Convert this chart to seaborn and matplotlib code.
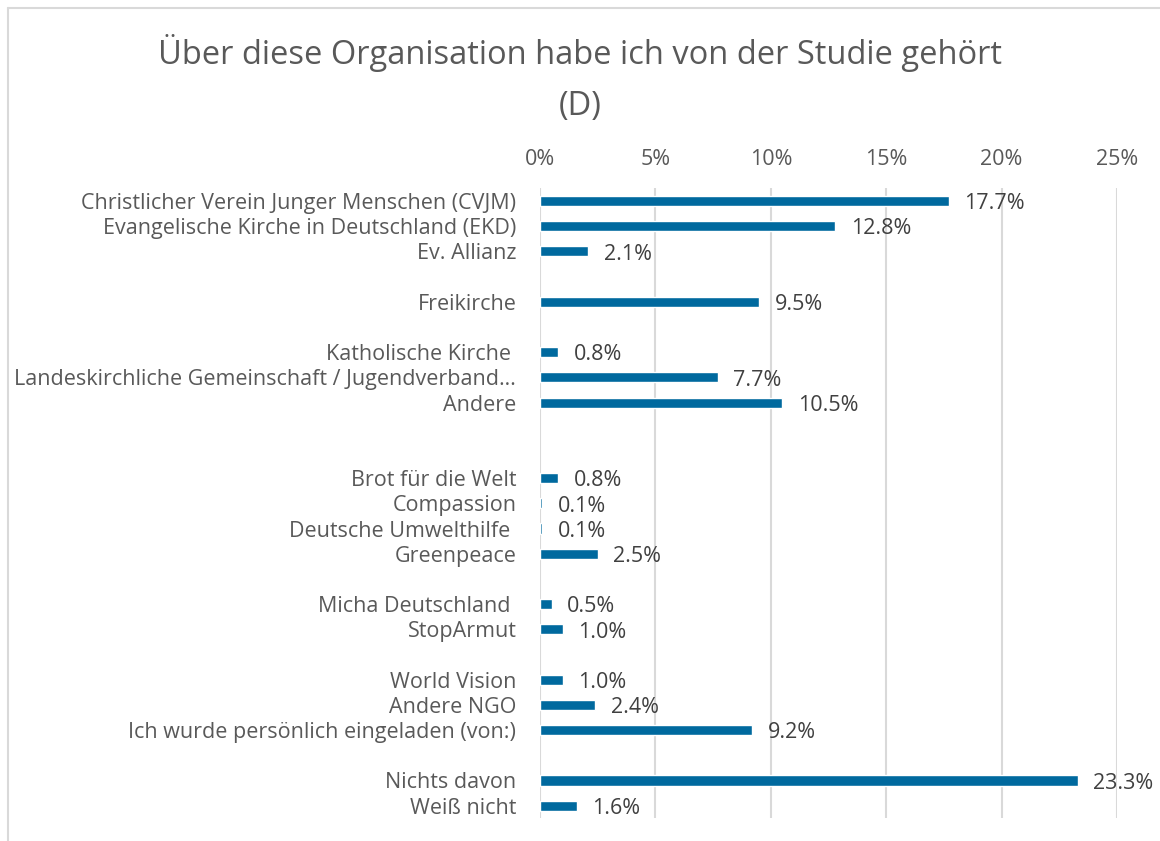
import numpy as np
import pandas as pd
import matplotlib.pyplot as plt
import seaborn as sns
from matplotlib.lines import Line2D

# data (None = empty slot in the chart)
labels = ["Christlicher Verein Junger Menschen (CVJM)",
          "Evangelische Kirche in Deutschland (EKD)",
          "Ev. Allianz",
          None,
          "Freikirche",
          None,
          "Katholische Kirche ",
          "Landeskirchliche Gemeinschaft / Jugendverband\u2026",
          "Andere",
          None,
          None,
          "Brot für die Welt",
          "Compassion",
          "Deutsche Umwelthilfe ",
          "Greenpeace",
          None,
          "Micha Deutschland ",
          "StopArmut",
          None,
          "World Vision",
          "Andere NGO",
          "Ich wurde persönlich eingeladen (von:)",
          None,
          "Nichts davon",
          "Weiß nicht"]
values = [17.7, 12.8, 2.1, None, 9.5, None, 0.8, 7.7, 10.5, None, None,
          0.8, 0.1, 0.1, 2.5, None, 0.5, 1.0, None, 1.0, 2.4, 9.2, None,
          23.3, 1.6]
xticks = [0, 5, 10, 15, 20, 25]

sns.set_theme(style="white")
plt.rcParams["font.family"] = ["Open Sans", "DejaVu Sans"]

slots = [str(i) for i in range(len(labels))]
df = pd.DataFrame({"slot": slots, "value": values})
df_bars = df.dropna()

fig = plt.figure(figsize=(11.6, 8.41), dpi=100)
ax = fig.add_axes([0.4655, 0.027, 0.4975, 0.749])

sns.barplot(data=df_bars, x="value", y="slot", order=slots, orient="h",
            color="#00699E", saturation=1, width=0.4, ax=ax)

ax.set_xlim(0, 25)
ax.set_xticks(xticks)
ax.set_xticklabels([f"{t}%" for t in xticks])
ax.xaxis.tick_top()
ax.set_yticks(range(len(labels)))
ax.set_yticklabels([l if l else "" for l in labels])
ax.tick_params(axis="x", length=0, pad=13, labelsize=15.5, labelcolor="#595959")
ax.tick_params(axis="y", length=0, pad=17, labelsize=15.5, labelcolor="#595959")
ax.set_xlabel("")
ax.set_ylabel("")
for s in ax.spines.values():
    s.set_visible(False)
ax.grid(axis="x", color="#D9D9D9", linewidth=1.5)
ax.set_axisbelow(True)

for i, v in enumerate(values):
    if v is None:
        continue
    ax.annotate(f"{v:.1f}%", xy=(v, i), xytext=(11, -2), textcoords="offset points",
                va="center", ha="left", fontsize=15.5, color="#404040")

fig.suptitle("Über diese Organisation habe ich von der Studie gehört\n(D)",
             y=0.96, fontsize=23.5, color="#595959", linespacing=1.75)

# chart area border
fig.add_artist(Line2D([8 / 1160, 1], [1 - 8 / 841, 1 - 8 / 841], color="#D9D9D9", lw=1.5))
fig.add_artist(Line2D([8 / 1160, 8 / 1160], [0, 1 - 8 / 841], color="#D9D9D9", lw=1.5))

fig.savefig("out.png", dpi=100)
